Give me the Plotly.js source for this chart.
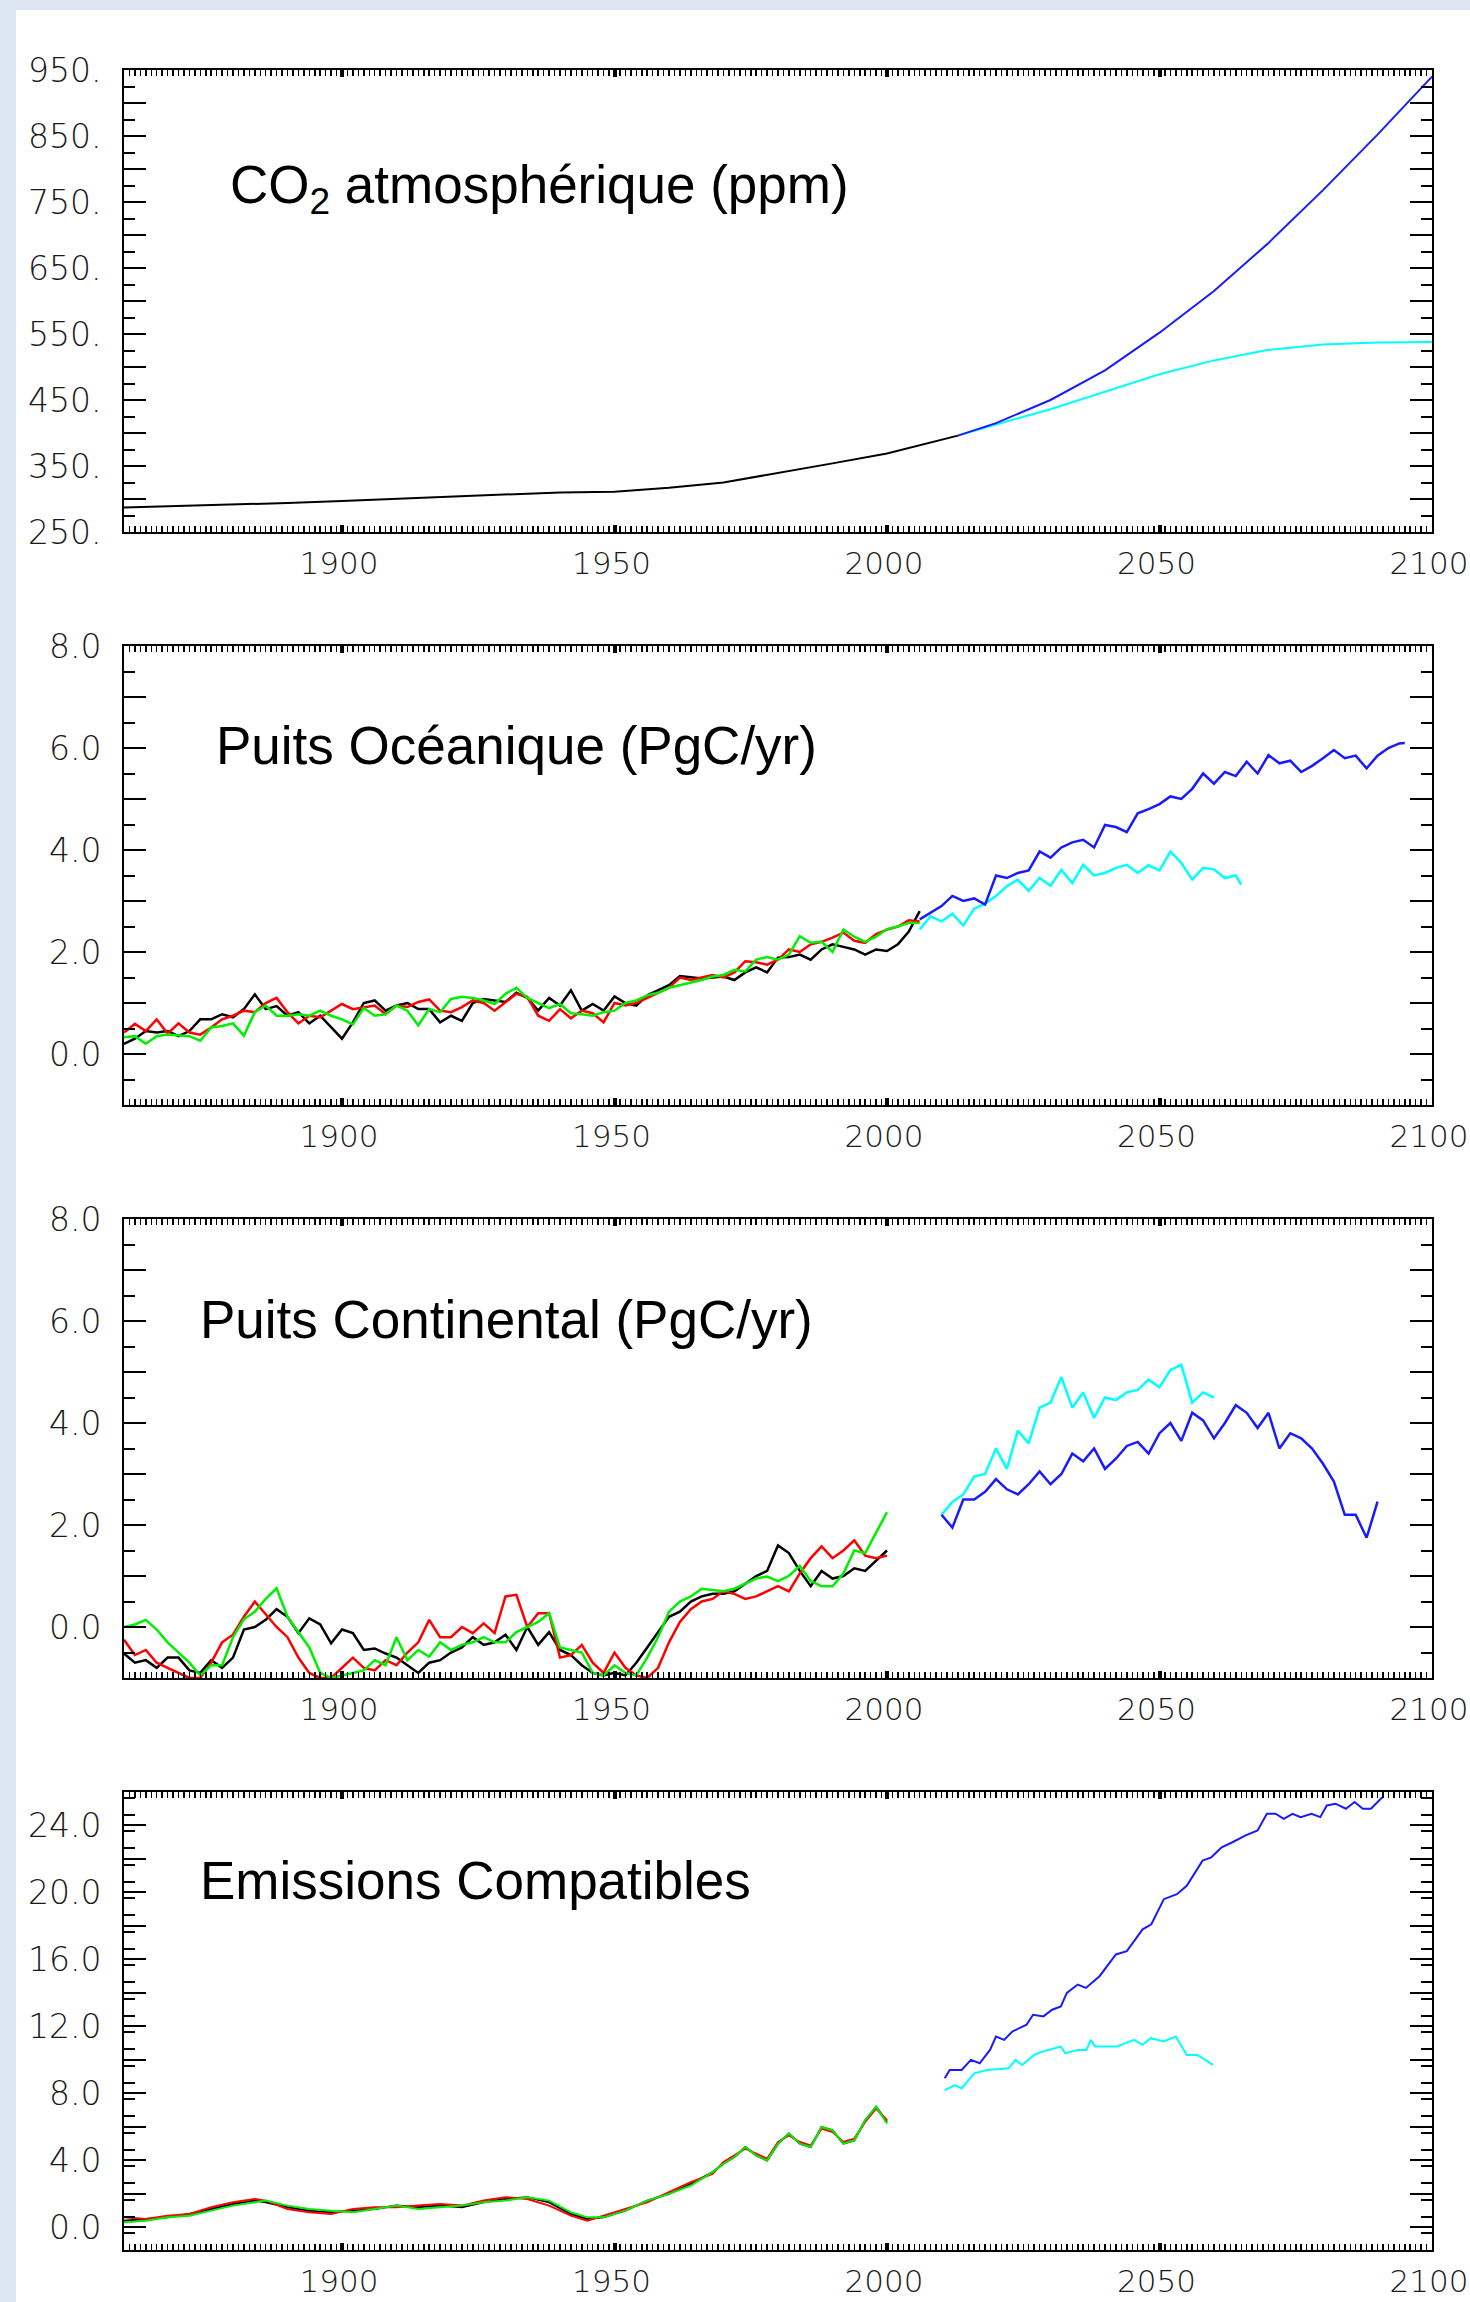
<!DOCTYPE html>
<html>
<head>
<meta charset="utf-8">
<script src="https://cdn.plot.ly/plotly-3.0.1.min.js"></script>
<style>
  html, body { margin:0; padding:0; width:1470px; height:2302px; background:#dce6f2; overflow:hidden; }
  #sheet { position:absolute; left:16px; top:10px; width:1454px; height:2292px; background:#ffffff; }
  #chart { position:absolute; left:0; top:0; width:1470px; height:2302px; }
</style>
</head>
<body>
<div id="sheet"></div>
<div id="chart"></div>
<script>
// ---------------- DATA ----------------
// Panel 1 : CO2 atmosphérique (ppm)
const p1HistYears = [1860,1870,1880,1890,1900,1910,1920,1930,1940,1950,1960,1970,1980,1990,2000,2010,2013];
const p1HistBlack = [287,289,291,294,297,300,303,307,310,311,317,325,339,354,369,389,396];
const p1FutYears  = [2013,2020,2030,2040,2050,2060,2070,2080,2090,2100];
const p1FutBlue   = [396,415,450,495,552,615,688,768,852,940];
const p1FutCyan   = [396,413,436,462,489,510,526,534,537,538];

// Panel 2 : Puits Océanique (PgC/yr)
const p2HistYears = [1860,1862,1864,1866,1868,1870,1872,1874,1876,1878,1880,1882,1884,1886,1888,1890,1892,1894,1896,1898,
  1900,1902,1904,1906,1908,1910,1912,1914,1916,1918,1920,1922,1924,1926,1928,1930,1932,1934,1936,1938,
  1940,1942,1944,1946,1948,1950,1952,1954,1956,1958,1960,1962,1964,1966,1968,1970,1972,1974,1976,1978,
  1980,1982,1984,1986,1988,1990,1992,1994,1996,1998,2000,2002,2004,2006];
const p2HistBlack = [0.2,0.3,0.45,0.42,0.45,0.35,0.45,0.68,0.68,0.78,0.72,0.88,1.17,0.88,0.94,0.75,0.82,0.6,0.75,0.52,
  0.3,0.62,1.0,1.05,0.85,0.95,1.0,0.88,0.88,0.62,0.75,0.65,1.0,1.08,1.05,1.02,1.2,1.1,0.85,1.1,
  0.95,1.25,0.85,0.98,0.85,1.13,1.0,0.95,1.15,1.25,1.35,1.53,1.5,1.48,1.5,1.52,1.45,1.6,1.7,1.6,
  1.89,1.9,1.95,1.85,2.05,2.15,2.1,2.05,1.95,2.05,2.02,2.15,2.4,2.8];
const p2HistRed = [0.42,0.59,0.45,0.68,0.4,0.6,0.42,0.38,0.52,0.68,0.75,0.85,0.82,1.0,1.1,0.82,0.6,0.75,0.72,0.85,
  0.98,0.88,0.92,0.95,0.78,0.95,0.92,1.02,1.07,0.85,0.82,0.92,1.05,1.0,0.85,1.02,1.18,1.12,0.75,0.65,
  0.88,0.7,0.85,0.8,0.62,1.0,0.95,1.0,1.1,1.2,1.3,1.5,1.45,1.5,1.55,1.5,1.6,1.82,1.8,1.75,
  1.85,2.05,2.0,2.15,2.2,2.28,2.38,2.22,2.18,2.35,2.44,2.5,2.62,2.6];
const p2HistGreen = [0.33,0.35,0.2,0.35,0.38,0.36,0.35,0.26,0.52,0.55,0.6,0.36,0.82,0.95,0.75,0.75,0.78,0.75,0.85,0.75,
  0.68,0.58,0.9,0.75,0.78,0.95,0.85,0.56,0.88,0.82,1.08,1.12,1.1,1.05,0.98,1.18,1.3,1.1,1.0,0.9,
  0.98,0.8,0.78,0.75,0.82,0.85,1.0,1.05,1.15,1.2,1.3,1.35,1.4,1.45,1.52,1.55,1.65,1.62,1.85,1.9,
  1.85,1.95,2.31,2.18,2.2,2.0,2.44,2.3,2.2,2.3,2.45,2.5,2.57,2.57];
const p2BlueYears = [2006,2008,2010,2012,2014,2016,2018,2020,2022,2024,2026,2028,2030,2032,2034,2036,2038,2040,2042,2044,
  2046,2048,2050,2052,2054,2056,2058,2060,2062,2064,2066,2068,2070,2072,2074,2076,2078,2080,2082,2084,
  2086,2088,2090,2092,2094,2095];
const p2Blue = [2.64,2.77,2.9,3.1,3.0,3.05,2.93,3.5,3.45,3.55,3.6,3.97,3.85,4.05,4.15,4.2,4.05,4.49,4.45,4.35,
  4.72,4.8,4.9,5.05,5.0,5.2,5.5,5.3,5.53,5.45,5.73,5.5,5.86,5.7,5.75,5.53,5.65,5.8,5.96,5.8,
  5.85,5.6,5.85,6.0,6.09,6.1];
const p2CyanYears = [2006,2008,2010,2012,2014,2016,2018,2020,2022,2024,2026,2028,2030,2032,2034,2036,2038,2040,2042,2044,
  2046,2048,2050,2052,2054,2056,2058,2060,2062,2064,2065];
const p2Cyan = [2.44,2.7,2.6,2.75,2.52,2.85,2.95,3.1,3.29,3.42,3.2,3.45,3.3,3.61,3.35,3.71,3.5,3.55,3.65,3.71,
  3.55,3.7,3.6,3.97,3.75,3.42,3.65,3.62,3.45,3.5,3.32];

// Panel 3 : Puits Continental (PgC/yr)
const p3HistYears = [1860,1862,1864,1866,1868,1870,1872,1874,1876,1878,1880,1882,1884,1886,1888,1890,1892,1894,1896,1898,
  1900,1902,1904,1906,1908,1910,1912,1914,1916,1918,1920,1922,1924,1926,1928,1930,1932,1934,1936,1938,
  1940,1942,1944,1946,1948,1950,1952,1954,1956,1958,1960,1962,1964,1966,1968,1970,1972,1974,1976,1978,
  1980,1982,1984,1986,1988,1990,1992,1994,1996,1998,2000];
const p3HistBlack = [-0.52,-0.7,-0.65,-0.8,-0.6,-0.6,-0.85,-0.9,-0.65,-0.8,-0.6,-0.05,0.0,0.14,0.35,0.2,-0.12,0.17,0.05,-0.32,
  -0.05,-0.12,-0.45,-0.42,-0.52,-0.6,-0.75,-0.9,-0.7,-0.65,-0.5,-0.4,-0.2,-0.35,-0.3,-0.15,-0.45,0.0,-0.35,-0.1,
  -0.45,-0.55,-0.75,-0.9,-0.95,-0.9,-0.95,-0.7,-0.4,-0.1,0.2,0.3,0.5,0.6,0.65,0.65,0.7,0.85,1.0,1.1,
  1.6,1.45,1.1,0.8,1.1,0.95,1.0,1.15,1.1,1.3,1.5];
const p3HistRed = [-0.25,-0.55,-0.45,-0.7,-0.8,-0.9,-1.0,-1.0,-0.7,-0.3,-0.15,0.2,0.5,0.25,0.0,-0.2,-0.6,-0.9,-1.0,-1.0,
  -0.8,-0.6,-0.8,-0.85,-0.65,-0.75,-0.5,-0.3,0.14,-0.2,-0.2,0.0,-0.12,0.07,-0.12,0.6,0.63,0.0,0.27,0.27,
  -0.6,-0.55,-0.35,-0.7,-0.9,-0.5,-0.8,-0.95,-1.0,-0.8,-0.3,0.1,0.35,0.5,0.55,0.7,0.65,0.55,0.6,0.7,
  0.8,0.7,1.05,1.35,1.58,1.35,1.5,1.7,1.4,1.35,1.4];
const p3HistGreen = [0.0,0.05,0.14,-0.05,-0.3,-0.5,-0.7,-0.95,-0.75,-0.75,-0.2,0.15,0.3,0.55,0.76,0.2,-0.1,-0.4,-0.9,-1.0,
  -0.95,-0.9,-0.85,-0.65,-0.75,-0.2,-0.65,-0.45,-0.58,-0.3,-0.45,-0.35,-0.3,-0.2,-0.3,-0.3,-0.1,0.0,0.1,0.27,
  -0.4,-0.45,-0.5,-0.9,-0.95,-0.75,-0.9,-0.95,-0.6,-0.2,0.3,0.5,0.6,0.75,0.72,0.7,0.75,0.85,0.95,0.99,
  0.9,1.0,1.2,0.9,0.8,0.8,1.05,1.5,1.45,1.85,2.25];
const p3BlueYears = [2010,2012,2014,2016,2018,2020,2022,2024,2026,2028,2030,2032,2034,2036,2038,2040,2042,2044,2046,2048,
  2050,2052,2054,2056,2058,2060,2062,2064,2066,2068,2070,2072,2074,2076,2078,2080,2082,2084,2086,2088,2089,2090];
const p3Blue = [2.2,1.95,2.5,2.5,2.65,2.9,2.7,2.6,2.8,3.05,2.8,3.0,3.4,3.25,3.5,3.1,3.3,3.55,3.63,3.4,
  3.8,4.0,3.65,4.2,4.05,3.7,4.0,4.35,4.2,3.9,4.2,3.5,3.8,3.7,3.5,3.2,2.85,2.2,2.2,1.75,2.1,2.46];
const p3CyanYears = [2010,2012,2014,2016,2018,2020,2022,2024,2026,2028,2030,2032,2034,2036,2038,2040,2042,2044,2046,2048,
  2050,2052,2054,2056,2058,2060];
const p3Cyan = [2.2,2.45,2.6,2.95,3.0,3.5,3.1,3.85,3.6,4.3,4.4,4.9,4.3,4.6,4.1,4.5,4.45,4.6,4.65,4.85,
  4.7,5.04,5.14,4.4,4.6,4.5];

// Panel 4 : Emissions Compatibles
const p4HistYears = [1860,1864,1868,1872,1876,1880,1884,1886,1890,1894,1898,1902,1906,1910,1914,1918,1922,1926,1930,1934,
  1938,1942,1945,1948,1952,1956,1960,1964,1968,1970,1972,1974,1976,1978,1980,1982,1984,1986,1988,1990,
  1992,1994,1996,1998,2000];
const p4HistBlack = [0.4,0.5,0.6,0.8,1.1,1.4,1.6,1.5,1.2,1.0,0.9,1.0,1.1,1.3,1.2,1.3,1.2,1.5,1.7,1.8,
  1.5,0.8,0.5,0.6,1.0,1.6,2.0,2.6,3.3,3.8,4.2,4.8,4.3,4.0,5.0,5.6,5.0,4.8,6.0,5.8,
  5.0,5.2,6.4,7.2,6.3];
const p4HistRed = [0.6,0.5,0.7,0.8,1.2,1.5,1.7,1.6,1.1,0.9,0.8,1.1,1.2,1.2,1.3,1.4,1.3,1.6,1.8,1.7,
  1.3,0.7,0.4,0.7,1.1,1.5,2.1,2.7,3.2,3.9,4.3,4.7,4.4,4.1,5.1,5.5,5.1,4.9,5.9,5.7,
  5.1,5.3,6.3,7.1,6.4];
const p4HistGreen = [0.3,0.4,0.6,0.7,1.0,1.3,1.5,1.6,1.3,1.1,1.0,0.9,1.1,1.3,1.1,1.2,1.3,1.5,1.6,1.8,
  1.6,0.9,0.6,0.6,1.0,1.6,2.0,2.5,3.3,3.8,4.2,4.8,4.3,4.0,5.0,5.6,5.0,4.8,6.0,5.8,
  5.0,5.2,6.4,7.2,6.2];
const p4BlueYears = [2010.6,2011.5,2013.7,2015.4,2017,2018.9,2020,2021.5,2023,2025.6,2026.8,2028.7,2030.3,2031.9,2033,2035,2036.5,2039,2042,2044,
  2046.9,2048.5,2050.8,2053.2,2055,2057.9,2059.5,2061.4,2063.4,2065.7,2068,2069.7,2071.3,2072.8,2074.4,2075.9,2077.9,2079.5,2080.7,2082.3,
  2084.2,2085.8,2087.3,2088.8,2090.6,2091];
const p4Blue = [8.9,9.4,9.4,10.0,9.8,10.6,11.4,11.2,11.7,12.1,12.7,12.6,13.0,13.2,14.0,14.5,14.3,15.0,16.3,16.5,
  17.8,18.1,19.6,19.9,20.4,21.9,22.1,22.7,23.0,23.4,23.7,24.7,24.7,24.4,24.7,24.5,24.7,24.5,25.2,25.3,
  25.0,25.4,25.0,25.0,25.6,25.7];
const p4CyanYears = [2010.6,2012.5,2013.7,2016,2018.4,2022.3,2023.6,2024.8,2027,2028.6,2031.9,2032.7,2035,2036.6,2037.4,2038.2,2042.2,2045.3,2046.9,2048.4,
  2050.8,2053,2055,2057,2059.8];
const p4Cyan = [8.2,8.5,8.3,9.2,9.4,9.5,10.0,9.7,10.3,10.5,10.8,10.4,10.6,10.6,11.2,10.8,10.8,11.2,10.9,11.3,
  11.1,11.4,10.3,10.3,9.7];

// Axis ticks and labels
const xTickVals = [1900,1950,2000,2050,2100];
const xTickText = ['1900','1950','2000','2050','2100'];
const p1TickVals = [250,300,350,400,450,500,550,600,650,700,750,800,850,900,950];
const p1TickText = ['250.','','350.','','450.','','550.','','650.','','750.','','850.','','950.'];
const p23TickVals = [-1,0,1,2,3,4,5,6,7,8];
const p23TickText = ['','0.0','','2.0','','4.0','','6.0','','8.0'];
const p4TickVals = [0,2,4,6,8,10,12,14,16,18,20,22,24];
const p4TickText = ['0.0','','4.0','','8.0','','12.0','','16.0','','20.0','','24.0'];
const panelTitles = ['CO<sub>2</sub> atmosphérique (ppm)','Puits Océanique (PgC/yr)','Puits Continental (PgC/yr)','Emissions Compatibles'];

// ---------------- LAYOUT ----------------
const W = 1470, H = 2302;
const plotLeft = 124, plotRight = 1432;
const panelsPx = [[70,532],[646,1105],[1219,1678],[1792,2250]];
const yRanges = [[250,950],[-1,8],[-1,8],[-1.35,26]];
const yTicks = [[p1TickVals,p1TickText,25],[p23TickVals,p23TickText,0.5],[p23TickVals,p23TickText,0.5],[p4TickVals,p4TickText,1]];
const titleY = [188,745,1319,1880];
const titleX = [228,214,198,198];

const yTickFont = {family:'DejaVu Sans, Liberation Sans, sans-serif', size:33, color:'#1a1a1a', weight:200};
const xTickFont = {family:'DejaVu Sans, Liberation Sans, sans-serif', size:31, color:'#1a1a1a', weight:200};
const layout = {
  width:W, height:H,
  margin:{l:0,r:0,t:0,b:0},
  paper_bgcolor:'rgba(0,0,0,0)', plot_bgcolor:'#ffffff',
  showlegend:false,
  annotations:[]
};
for (let i=0;i<4;i++){
  const sx = i===0 ? '' : String(i+1);
  const [top,bot] = panelsPx[i];
  layout['xaxis'+sx] = {
    domain:[plotLeft/W, plotRight/W], range:[1860,2100], anchor:'y'+sx,
    showline:true, linecolor:'#000', linewidth:2, mirror:'ticks',
    ticks:'inside', ticklen:7, tickwidth:4, tickcolor:'#000',
    tickmode:'array', tickvals:xTickVals, ticktext:xTickText,
    minor:{ticks:'inside', dtick:1, tick0:1860, ticklen:6, tickwidth:1.5, tickcolor:'#000', showgrid:false},
    showgrid:false, zeroline:false, tickfont:xTickFont, ticklabelstandoff:3, ticklabelshift:-3,
    ticklabeloverflow:'allow',
    fixedrange:true
  };
  layout['yaxis'+sx] = {
    domain:[1-bot/H, 1-top/H], range:yRanges[i], anchor:'x'+sx,
    showline:true, linecolor:'#000', linewidth:2, mirror:'ticks',
    ticks:'inside', ticklen:22, tickwidth:2, tickcolor:'#000',
    tickmode:'array', tickvals:yTicks[i][0], ticktext:yTicks[i][1],
    minor:{ticks:'inside', dtick:yTicks[i][2], tick0:yRanges[i][0], ticklen:11, tickwidth:2, tickcolor:'#000', showgrid:false},
    showgrid:false, zeroline:false, tickfont:yTickFont, ticklabelstandoff:14,
    ticklabeloverflow:'allow',
    fixedrange:true
  };
  layout.annotations.push({
    text:panelTitles[i], xref:'paper', yref:'paper', x:titleX[i]/W, y:1-titleY[i]/H,
    xanchor:'left', yanchor:'middle', showarrow:false,
    font:{family:'Liberation Sans, Arial, sans-serif', size:53, color:'#000'}
  });
}

const BLACK='#000000', RED='#ff0000', GREEN='#00ee00', BLUE='#1a1aff', CYAN='#00ffff';
function tr(x,y,color,axis,w){
  return {x:x, y:y, type:'scatter', mode:'lines', line:{color:color, width:w}, xaxis:'x'+axis, yaxis:'y'+axis, hoverinfo:'skip'};
}
const data = [
  tr(p1FutYears,p1FutCyan,CYAN,'',2),
  tr(p1FutYears,p1FutBlue,BLUE,'',2),
  tr(p1HistYears,p1HistBlack,BLACK,'',2),

  tr(p2HistYears,p2HistBlack,BLACK,'2',2.5),
  tr(p2HistYears,p2HistRed,RED,'2',2.5),
  tr(p2HistYears,p2HistGreen,GREEN,'2',2.5),
  tr(p2CyanYears,p2Cyan,CYAN,'2',2.5),
  tr(p2BlueYears,p2Blue,BLUE,'2',2.5),

  tr(p3HistYears,p3HistBlack,BLACK,'3',2.5),
  tr(p3HistYears,p3HistRed,RED,'3',2.5),
  tr(p3HistYears,p3HistGreen,GREEN,'3',2.5),
  tr(p3CyanYears,p3Cyan,CYAN,'3',2.5),
  tr(p3BlueYears,p3Blue,BLUE,'3',2.5),

  tr(p4HistYears,p4HistBlack,BLACK,'4',2),
  tr(p4HistYears,p4HistRed,RED,'4',2),
  tr(p4HistYears,p4HistGreen,GREEN,'4',2),
  tr(p4CyanYears,p4Cyan,CYAN,'4',2),
  tr(p4BlueYears,p4Blue,BLUE,'4',2)
];
Plotly.newPlot('chart', data, layout, {staticPlot:true, displayModeBar:false});
</script>
</body>
</html>
